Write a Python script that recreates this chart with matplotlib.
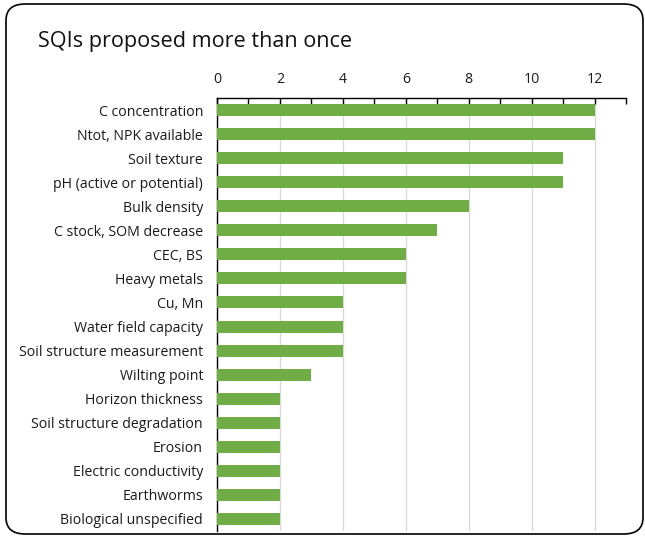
import matplotlib
matplotlib.use("Agg")
import matplotlib.pyplot as plt
from matplotlib.patches import FancyBboxPatch
from matplotlib.ticker import MultipleLocator

categories = ["C concentration", "Ntot, NPK available", "Soil texture",
              "pH (active or potential)", "Bulk density", "C stock, SOM decrease",
              "CEC, BS", "Heavy metals", "Cu, Mn", "Water field capacity",
              "Soil structure measurement", "Wilting point", "Horizon thickness",
              "Soil structure degradation", "Erosion", "Electric conductivity",
              "Earthworms", "Biological unspecified"]
values = [12, 12, 11, 11, 8, 7, 6, 6, 4, 4, 4, 3, 2, 2, 2, 2, 2, 2]
x_ticks = [0, 2, 4, 6, 8, 10, 12]

plt.rcParams['font.family'] = ['Open Sans', 'DejaVu Sans']

fig = plt.figure(figsize=(6.45, 5.44), dpi=100)
ax = fig.add_axes([217/645, 1-531/544, (626-217)/645, (531-98)/544])

ypos = list(range(len(categories)))
ax.barh(ypos, values, height=0.5, color="#70AD47", zorder=3)
ax.set_ylim(len(categories)-0.5, -0.5)
ax.set_xlim(0, 13)
ax.set_yticks(ypos)
ax.set_yticklabels(categories, fontsize=10.2, color="#1a1a1a")
ax.tick_params(axis='y', length=0, pad=10)

ax.xaxis.tick_top()
ax.set_xticks(x_ticks)
ax.set_xticklabels([str(t) for t in x_ticks], fontsize=10.2, color="#1a1a1a")
ax.xaxis.set_minor_locator(MultipleLocator(1))
ax.tick_params(axis='x', which='both', direction='in', length=4, width=1, color='black', top=True, bottom=False, pad=8)
ax.grid(axis='x', which='major', color='#D9D9D9', linewidth=1, zorder=0)

for s in ['right', 'bottom']:
    ax.spines[s].set_visible(False)
for s in ['left', 'top']:
    ax.spines[s].set_color('black')
    ax.spines[s].set_linewidth(1)

fig.text(38/645, 1-42/544, "SQIs proposed more than once", fontsize=15.6, color="#111111", va='center', ha='left')

border = FancyBboxPatch((6/645, 10/544), (643-6)/645, (540-10)/544,
                        boxstyle="round,pad=0,rounding_size=0.03",
                        transform=fig.transFigure, fill=False, edgecolor='black', linewidth=1.2)
fig.patches.append(border)

fig.savefig("out.png", dpi=100)
